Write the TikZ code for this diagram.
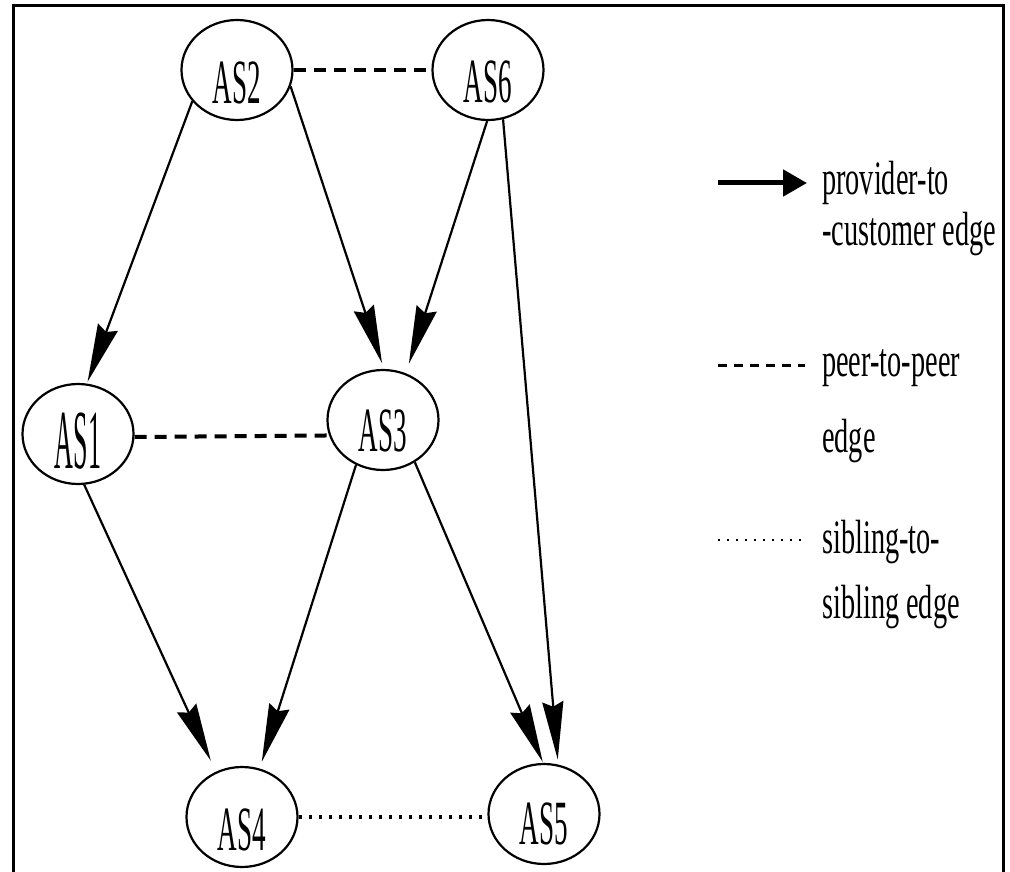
\documentclass[tikz,border=0pt]{standalone}
\usepackage{fontspec}
\setmainfont{Liberation Serif}
\usepackage{graphicx}
\usetikzlibrary{arrows.meta,shapes.geometric}
% #1 font size, #2 horizontal scale, #3 vertical shift, #4 text
\newcommand\astxt[4]{\raisebox{#3}[\height][\depth]{\fontsize{#1}{#1}\selectfont\scalebox{#2}[1]{#4}}}
\newcommand\legtxt[1]{\fontsize{48}{48}\selectfont\scalebox{0.59}[1]{#1}}
\begin{document}
\begin{tikzpicture}[x=1pt,y=-1pt,
  asnode/.style={ellipse, draw, line width=2.2pt, minimum width=111pt,
                 minimum height=100pt, inner sep=0pt},
  pc/.style={line width=2.2pt, -{Stealth[length=58pt,width=21pt,inset=5pt]}},
  peer/.style={line width=4pt, dash pattern=on 12pt off 8pt},
  sib/.style={line width=3.5pt, dash pattern=on 3pt off 7pt},
  legtext/.style={anchor=base west, inner sep=0pt},
  frame/.style={line width=3pt}
]
\useasboundingbox (0,0) rectangle (1010,872);
\draw[frame] (13,872) -- (13,6) -- (1003,6) -- (1003,872);

% AS nodes
\node[asnode] (AS2) at (237,70)  {\astxt{63}{0.43}{-13pt}{AS2}};
\node[asnode] (AS6) at (488,70)  {\astxt{63}{0.43}{-12pt}{AS6}};
\node[asnode] (AS1) at (78,434)  {\astxt{84}{0.31}{-7pt}{AS1}};
\node[asnode] (AS3) at (383,420) {\astxt{63}{0.43}{-11pt}{AS3}};
\node[asnode] (AS4) at (242,817) {\astxt{63}{0.43}{-13pt}{AS4}};
\node[asnode] (AS5) at (544,814) {\astxt{63}{0.43}{-10pt}{AS5}};

% provider-to-customer edges
\draw[pc, shorten >=2pt]  (AS2.215)  -- (AS1.80);
\draw[pc, shorten >=6pt]  (AS2.-17)  -- (AS3.89);
\draw[pc, shorten >=10pt] (AS6.-91)  -- (AS3.64);
\draw[pc, shorten >=5pt]  (AS6.-73)  -- (AS5.74);
\draw[pc, shorten >=12pt] (AS1.-83)  -- (AS4.120);
\draw[pc, shorten >=7pt]  (AS3.-121) -- (AS4.70);
\draw[pc, shorten >=1pt]  (AS3.-53)  -- (AS5.91);

% peer-to-peer edges
\draw[peer] (AS2.east) -- (AS6.west);
\draw[peer] ([yshift=-3pt]AS1.east) -- (AS3.196);

% sibling edge
\draw[sib] (AS4.east) -- (AS4.east -| AS5.west);

% legend
\coordinate (la1) at (718,183);
\coordinate (la2) at (807,183);
\draw[line width=5pt, -{Triangle[length=24pt,width=26pt]}] (la1) -- (la2);
\node[legtext] (l1a) at (822,195) {\legtxt{provider-to}};
\node[legtext] (l1b) at (822,245) {\legtxt{-customer edge}};

\coordinate (lb1) at (718,365);
\coordinate (lb2) at (805,365);
\draw[line width=3pt, dash pattern=on 9pt off 7pt] (lb1) -- (lb2);
\node[legtext] (l2a) at (822,376) {\legtxt{peer-to-peer}};
\node[legtext] (l2b) at (822,452) {\legtxt{edge}};

\coordinate (lc1) at (718,540);
\coordinate (lc2) at (805,540);
\draw[line width=2pt, dash pattern=on 2pt off 7pt] (lc1) -- (lc2);
\node[legtext] (l3a) at (822,553) {\legtxt{sibling-to-}};
\node[legtext] (l3b) at (822,618) {\legtxt{sibling edge}};
\end{tikzpicture}
\end{document}
